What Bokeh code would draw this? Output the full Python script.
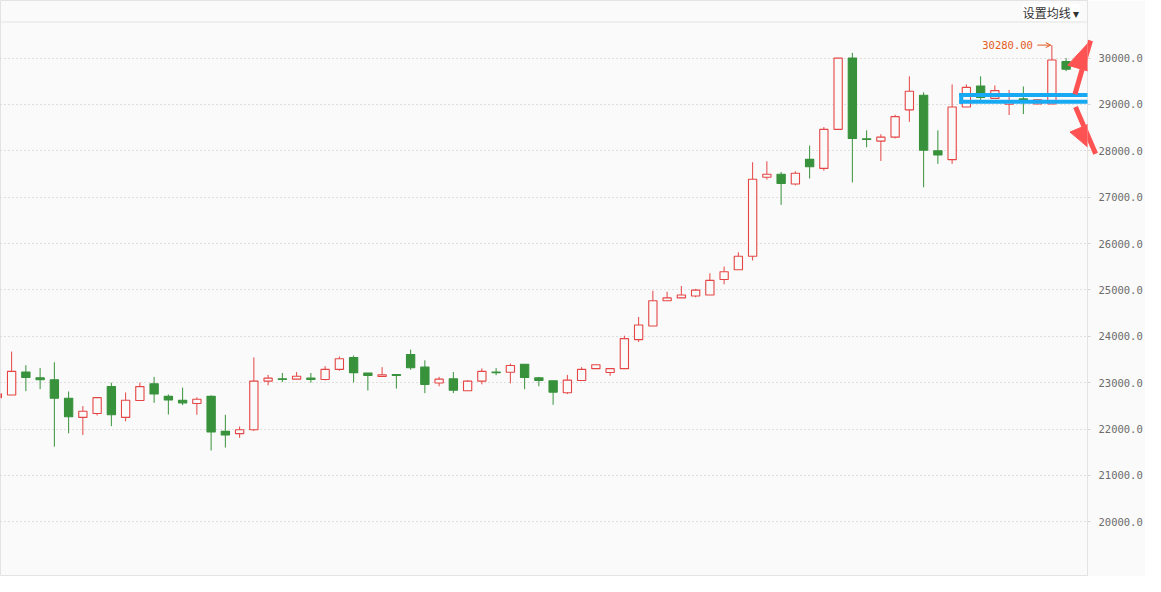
import numpy as np
from bokeh.plotting import figure
from bokeh.models import (Range1d, FixedTicker, NumeralTickFormatter, Span, Label,
                          Arrow, NormalHead, OpenHead, ColumnDataSource)
from bokeh.core.properties import value
from bokeh.embed import file_html
from bokeh.resources import INLINE

# ---------------- data ----------------
opens = [22678, 22734, 23231, 23105, 23063, 22664, 22252, 22336, 22916, 22252,
         22615, 22979, 22706, 22622, 22552, 22706, 21951, 21902, 21986, 23035,
         23084, 23077, 23098, 23070, 23287, 23545, 23210, 23133, 23175, 23608,
         23336, 22993, 23084, 22825, 23035, 23231, 23224, 23399, 23105, 23042,
         22783, 23049, 23303, 23219, 23303, 23930, 24223, 24766, 24829, 24871,
         24892, 25226, 25436, 25726, 27431, 27495, 27284, 27817, 27621, 28463,
         30000, 28260, 28210, 28295, 28884, 29200, 28000, 27810, 28947, 29396,
         29131, 29004, 29120, 29010, 29010, 29923]
highs = [22790, 23671, 23378, 23315, 23441, 22811, 22497, 22678, 23000, 22790,
         23000, 23126, 22748, 22895, 22685, 22727, 22308, 22056, 23545, 23168,
         23210, 23231, 23210, 23357, 23566, 23587, 23210, 23336, 23189, 23713,
         23483, 23126, 23231, 23056, 23308, 23315, 23413, 23399, 23126, 23042,
         23168, 23336, 23387, 23303, 24014, 24418, 24983, 24962, 25087, 25024,
         25359, 25505, 25812, 27754, 27775, 27544, 27558, 28112, 28512, 30000,
         30112, 28442, 28358, 28779, 29607, 29263, 28442, 29432, 29432, 29607,
         29410, 29312, 29389, 29110, 30280, 30000]
lows = [22650, 22734, 22818, 22860, 21622, 21909, 21874, 22294, 22063, 22168,
        22615, 22566, 22315, 22517, 22308, 21538, 21601, 21811, 21958, 22944,
        23014, 23077, 23000, 23049, 23259, 23007, 22832, 23133, 22874, 23280,
        22776, 22923, 22776, 22825, 22965, 23161, 22986, 22860, 22923, 22524,
        22755, 23049, 23303, 23150, 23303, 23881, 24223, 24766, 24829, 24843,
        24892, 25122, 25436, 25635, 27382, 26835, 27256, 27403, 27572, 28463,
        27319, 28077, 27782, 28267, 28625, 27214, 27719, 27719, 28947, 29100,
        29131, 28772, 28793, 29010, 29010, 29719]
closes = [22762, 23245, 23112, 23063, 22664, 22266, 22385, 22678, 22308, 22622,
          22916, 22755, 22629, 22566, 22643, 21937, 21874, 21986, 23035, 23098,
          23070, 23140, 23070, 23287, 23517, 23217, 23154, 23168, 23154, 23322,
          22965, 23077, 22839, 23035, 23245, 23217, 23371, 23112, 23049, 22797,
          23056, 23287, 23387, 23303, 23951, 24244, 24766, 24829, 24892, 24996,
          25206, 25394, 25728, 27389, 27495, 27298, 27516, 27656, 28463, 30000,
          28267, 28246, 28295, 28737, 29284, 28014, 27909, 28947, 29368, 29150,
          29299, 29080, 29090, 29100, 29958, 29761]
y_ticks = [20000, 21000, 22000, 23000, 24000, 25000, 26000, 27000, 28000, 29000, 30000]
header_text = "设置均线 ▾"

# ---------------- styles ----------------
UP = "#e64545"
DOWN = "#38923c"
BG = "#fafafa"
BORDER = "#e3e3e3"
ORANGE = "#e35a1c"
ARROW_RED = "#ff5252"
BLUE = "#17a9f2"

o = np.array(opens, dtype=float)
h = np.array(highs, dtype=float)
l = np.array(lows, dtype=float)
c = np.array(closes, dtype=float)
x = np.arange(len(o))
up = c >= o

src = ColumnDataSource(dict(
    x=x, high=h, low=l,
    top=np.maximum(o, c), bottom=np.minimum(o, c),
    color=[UP if u else DOWN for u in up],
    fill=[BG if u else DOWN for u in up],
))

p = figure(width=1145, height=576, output_backend="svg", toolbar_location=None,
           x_range=Range1d(0.22, 76.5), y_range=Range1d(18821, 31242),
           x_axis_location=None, y_axis_location="right",
           min_border_left=0, min_border_top=0, min_border_bottom=0, min_border_right=0,
           background_fill_color=BG, border_fill_color=BG,
           outline_line_color=BORDER, outline_line_width=1)

p.xgrid.visible = False
p.ygrid.ticker = FixedTicker(ticks=y_ticks)
p.ygrid.grid_line_color = "#c4c4c4"
p.ygrid.grid_line_dash = "1 3"
p.ygrid.grid_line_width = 1

ax = p.yaxis[0]
ax.ticker = FixedTicker(ticks=y_ticks)
ax.formatter = NumeralTickFormatter(format="0.0")
ax.major_label_text_font = "DejaVu Sans Mono"
ax.major_label_text_font_size = "10.5px"
ax.major_label_text_color = "#6c6c6c"
ax.major_label_standoff = 8
ax.axis_line_color = BORDER
ax.major_tick_line_color = "#d6d6d6"
ax.major_tick_out = 3
ax.major_tick_in = 0
ax.minor_tick_line_color = None

# header separator line and button
p.add_layout(Span(location=30779, dimension="width", line_color=BORDER, line_width=1))
p.add_layout(Label(x=71.95, y=30989, text=header_text, text_font="Noto Sans CJK SC",
                   text_font_size="12px", text_color="#333333", text_baseline="middle",
                   background_fill_color="white"))

# candles
p.segment(x0="x", y0="low", x1="x", y1="high", source=src, line_color="color", line_width=1)
p.vbar(x="x", width=0.58, top="top", bottom="bottom", source=src,
       fill_color="fill", line_color="color", line_width=1.1)

# highest price marker
mi = int(np.argmax(h))
p.text(x=[mi], y=[h[mi]], text=[f"{h[mi]:.2f}"], x_offset=-19,
       text_align="right", text_baseline="middle",
       text_font=value("DejaVu Sans Mono"), text_font_size="10.5px", text_color=ORANGE)
p.add_layout(Arrow(x_start=mi - 1.02, y_start=h[mi], x_end=mi - 0.08, y_end=h[mi],
                   line_color=ORANGE, line_width=1,
                   end=OpenHead(size=5, line_color=ORANGE, line_width=1)))

# annotation: blue rectangle (drawn as four unclipped strokes) and red arrows
bx0, bx1, by0, by1 = 67.64, 78.0, 29059, 29204
for xs, ys, xe, ye in [(bx0, by1, bx1, by1), (bx0, by0, bx1, by0),
                       (bx0, by0, bx0, by1), (bx1, by0, bx1, by1)]:
    p.add_layout(Arrow(x_start=xs, y_start=ys, x_end=xe, y_end=ye, end=None,
                       line_color=BLUE, line_width=4, line_cap="square"))

p.add_layout(Arrow(x_start=75.62, y_start=29221, x_end=76.71, y_end=30379,
                   line_color=ARROW_RED, line_width=5,
                   end=NormalHead(size=30, fill_color=ARROW_RED, line_color=ARROW_RED)))
p.add_layout(Arrow(x_start=75.66, y_start=28947, x_end=77.07, y_end=27937,
                   line_color=ARROW_RED, line_width=5,
                   end=NormalHead(size=30, fill_color=ARROW_RED, line_color=ARROW_RED)))

open("out.html", "w").write(file_html(p, INLINE))
